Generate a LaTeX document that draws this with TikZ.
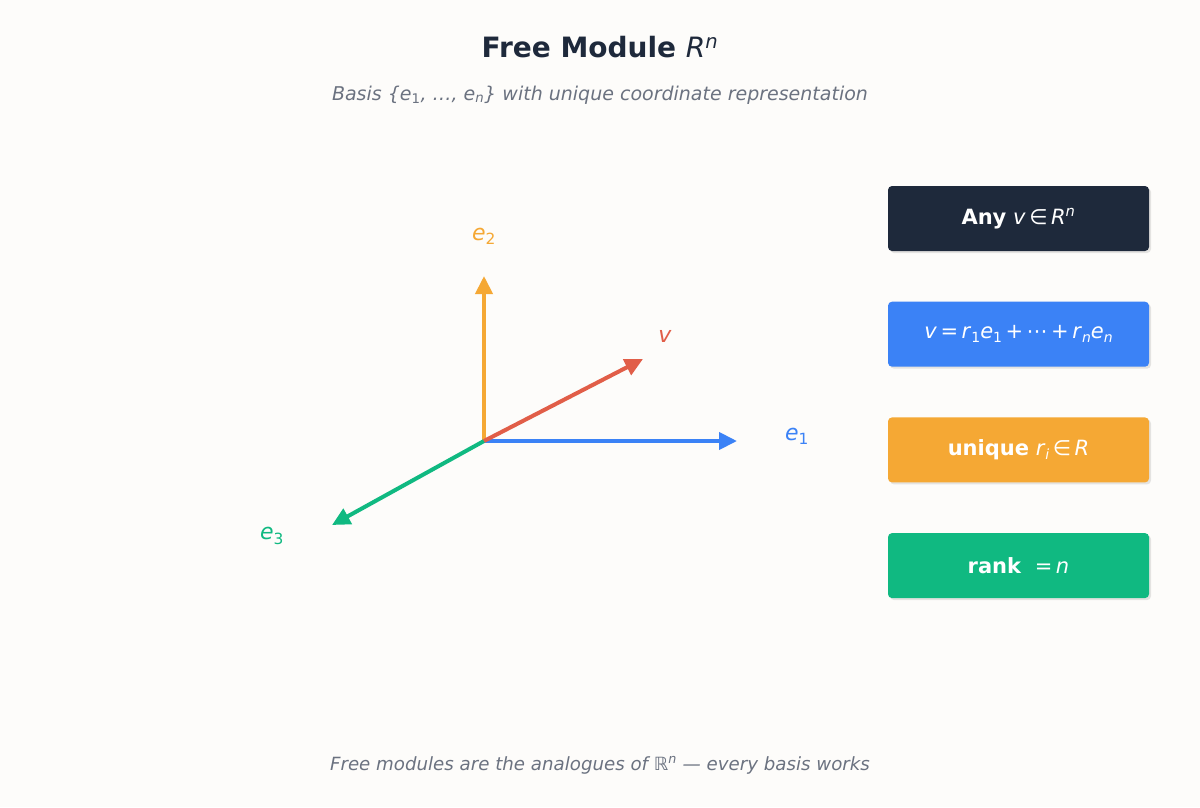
\documentclass[tikz,border=0pt]{standalone}
\usepackage{fontspec}
\setmainfont{DejaVu Sans}
\usepackage{color}
\definecolor{mybg}{RGB}{253,252,250}
\definecolor{myslate}{RGB}{30,41,59}
\definecolor{mygray}{RGB}{107,114,128}
\definecolor{myblue}{RGB}{59,130,246}
\definecolor{myorange}{RGB}{245,168,52}
\definecolor{mygreen}{RGB}{16,185,129}
\definecolor{myred}{RGB}{225,94,72}
\definecolor{mywhite}{RGB}{255,255,255}
\usepackage{tikz}
\usetikzlibrary{arrows.meta,positioning,shadows}
\tikzstyle{vec}=[line width=4pt,-{Triangle[length=18pt,width=17pt]}]
\tikzstyle{lbl}=[font=\fontsize{22}{26}\selectfont\itshape,inner sep=0pt]
\newcommand{\ms}[1]{\textit{#1}}
\newcommand{\lo}[1]{\raisebox{-0.35ex}{\fontsize{14}{16}\selectfont #1}}

\begin{document}
\begin{tikzpicture}[
  x=1pt,y=-1pt,
  infobox/.style={
    draw=none,
    fill=#1,
    rounded corners=4pt,
    minimum width=261pt,
    minimum height=65pt,
    text=mywhite,
    font=\fontsize{21}{25}\selectfont,
    drop shadow={shadow xshift=2pt,shadow yshift=-2pt,opacity=0.2}
    }
]
\fill[mybg] (0,0) rectangle (1200,807);

\node[font=\fontsize{28}{34}\selectfont\bfseries,text=myslate] (title) at (600,47)
  {Free Module {\mdseries\ms{R}\textsuperscript{\ms{n}}}};
\node[font=\fontsize{19}{23}\selectfont\itshape,text=mygray] (subtitle) at (600,95)
  {Basis \{e\textsubscript{\upshape 1}, …, e\textsubscript{n}\} with unique coordinate representation};

% vectors
\coordinate (o) at (484,441);
\coordinate (e1tip) at (737,441);
\coordinate (e2tip) at (484,276);
\coordinate (e3tip) at (332,525);
\coordinate (vtip) at (643,359);
\draw[vec,myorange] (o) -- (e2tip);
\draw[vec,myblue] (o) -- (e1tip);
\draw[vec,mygreen] (o) -- (e3tip);
\draw[vec,myred] (o) -- (vtip);

\node[lbl,text=myorange] (e2) at (484,236) {e\textsubscript{\upshape 2}};
\node[lbl,text=myred] (v) at (665,336) {v};
\node[lbl,text=myblue] (e1) at (797,436) {e\textsubscript{\upshape 1}};
\node[lbl,text=mygreen] (e3) at (272,536) {e\textsubscript{\upshape 3}};

% boxes
\node[infobox=myslate] (any) at (1018.5,218.5)
  {\textbf{Any} \ms{v}\,∈\,\ms{R}\textsuperscript{\ms{n}}};
\node[infobox=myblue] [below=50.3pt of any] (sum)
  {\ms{v}\,=\,\ms{r}\lo{1}\ms{e}\lo{1}\,+\,⋯\,+\,\ms{r}\lo{\ms{n}}\ms{e}\lo{\ms{n}}};
\node[infobox=myorange] [below=50.3pt of sum] (uniq)
  {\textbf{unique} \ms{r}\lo{\ms{i}}\,∈\,\ms{R}};
\node[infobox=mygreen] [below=50.3pt of uniq] (rank)
  {\textbf{rank} \ =\,\ms{n}};

\node[font=\fontsize{18.2}{22}\selectfont\itshape,text=mygray] (footer) at (600,765)
  {Free modules are the analogues of {\upshape ℝ}\textsuperscript{n} — every basis works};
\end{tikzpicture}
\end{document}
